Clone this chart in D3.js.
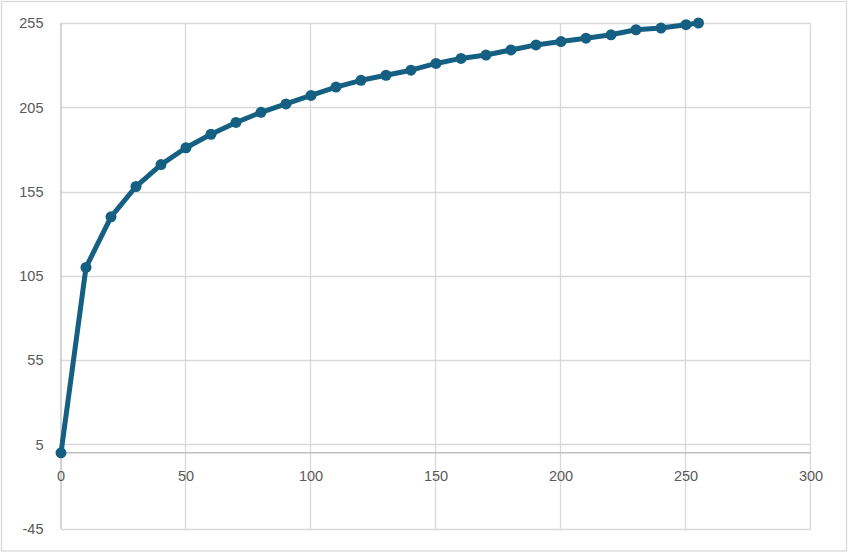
<!DOCTYPE html>
<html>
<head>
<meta charset="utf-8">
<script src="https://cdn.jsdelivr.net/npm/d3@7"></script>
<style>
html,body{margin:0;padding:0;background:#fff;}
svg{display:block;}
</style>
</head>
<body>
<svg id="chart" width="849" height="553"></svg>
<script>
const xValues = [0,10,20,30,40,50,60,70,80,90,100,110,120,130,140,150,160,170,180,190,200,210,220,230,240,250,255];
const yValues = [0,110,140,158,171,181,189,196,202,207,212,217,221,224,227,231,234,236,239,242,244,246,248,251,252,254,255];
const xTicks = [0,50,100,150,200,250,300];
const yTicks = [-45,5,55,105,155,205,255];

const svg = d3.select("#chart");
const W = 849, H = 553;
const pLeft = 61, pRight = 811, pTop = 23, pBottom = 528.7;

svg.append("rect").attr("x",1.5).attr("y",1.5).attr("width",W-4).attr("height",H-3.5)
  .attr("fill","#fff").attr("stroke","#d9d9d9").attr("stroke-width",1.3);

const x = d3.scaleLinear().domain([0,300]).range([pLeft,pRight]);
const y = d3.scaleLinear().domain([-45,255]).range([pBottom,pTop]);

const grid = svg.append("g");
grid.selectAll("line.h").data(yTicks).join("line")
  .attr("x1",pLeft).attr("x2",pRight)
  .attr("y1",d=>Math.round(y(d))+0.5).attr("y2",d=>Math.round(y(d))+0.5)
  .attr("stroke","#d9d9d9").attr("stroke-width",1.3);
grid.selectAll("line.v").data(xTicks.slice(1)).join("line")
  .attr("y1",pTop).attr("y2",pBottom)
  .attr("x1",d=>Math.round(x(d))-0.5).attr("x2",d=>Math.round(x(d))-0.5)
  .attr("stroke","#d9d9d9").attr("stroke-width",1.3);

// y axis line
svg.append("line").attr("x1",x(0)).attr("x2",x(0)).attr("y1",pTop).attr("y2",pBottom)
  .attr("stroke","#bfbfbf").attr("stroke-width",1.3);
// x axis line at y=0
svg.append("line").attr("x1",pLeft).attr("x2",pRight).attr("y1",y(0)).attr("y2",y(0))
  .attr("stroke","#bfbfbf").attr("stroke-width",1.5);

const font = "'Liberation Sans', Arial, sans-serif";
svg.append("g").selectAll("text").data(yTicks).join("text")
  .attr("x",43.5).attr("y",d=>y(d)+1.5)
  .attr("text-anchor","end").attr("dominant-baseline","middle")
  .attr("font-family",font).attr("font-size","14.5px").attr("fill","#595959")
  .text(d=>d);
svg.append("g").selectAll("text").data(xTicks).join("text")
  .attr("x",d=>x(d)).attr("y",y(0)+24)
  .attr("text-anchor","middle").attr("dominant-baseline","middle")
  .attr("font-family",font).attr("font-size","14.5px").attr("fill","#595959")
  .text(d=>d);

const pts = xValues.map((v,i)=>[v,yValues[i]]);
const color = "#156082";
svg.append("path").datum(pts)
  .attr("d", d3.line().x(d=>x(d[0])).y(d=>y(d[1])))
  .attr("fill","none").attr("stroke",color).attr("stroke-width",5)
  .attr("stroke-linejoin","round").attr("stroke-linecap","round");
svg.append("g").selectAll("circle").data(pts).join("circle")
  .attr("cx",d=>x(d[0])).attr("cy",d=>y(d[1])).attr("r",5.5)
  .attr("fill",color);
</script>
</body>
</html>
